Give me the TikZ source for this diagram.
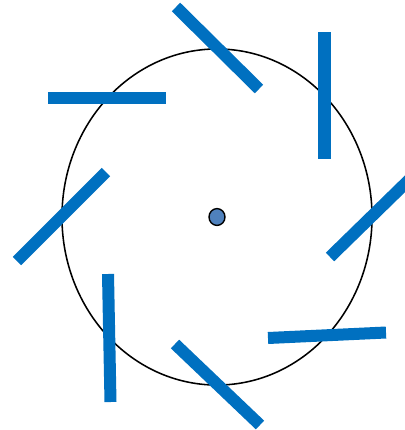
\documentclass[tikz,border=0pt]{standalone}
\usepackage{xcolor}
\usepackage{tikz}
\definecolor{bladeblue}{RGB}{0,112,192}
\definecolor{hubblue}{RGB}{79,129,189}

\begin{document}
\begin{tikzpicture}[
  x=0.025cm,y=-0.025cm,
  blade/.style={line width=0.3cm,color=bladeblue},
  rim/.style={draw=black,line width=1.1pt},
  hub/.style={draw=black,fill=hubblue,line width=1pt}
]
  \clip (0,0) rectangle (405,430);

  % Rim and hub
  \draw[rim] (217,217) ellipse [x radius=3.875cm, y radius=4.2cm];
  \draw[hub] (217,217) ellipse [x radius=0.2cm, y radius=0.21cm];

  % Blades, clockwise from the top
  \draw[blade] (176,7) -- (259,89);
  \draw[blade] (324.5,32) -- (324.5,159);
  \draw[blade] (330,257) -- (414,175);
  \draw[blade] (268,338) -- (386,332.5);
  \draw[blade] (175,344) -- (260,425);
  \draw[blade] (108,274) -- (110.5,402);
  \draw[blade] (106,172) -- (17,261);
  \draw[blade] (48,98) -- (166,98);
\end{tikzpicture}
\end{document}
